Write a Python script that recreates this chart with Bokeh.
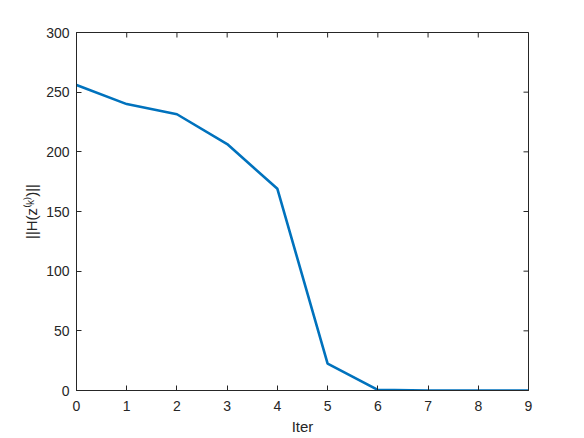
import math
from bokeh.plotting import figure
from bokeh.models import Range1d, FixedTicker
from bokeh.embed import file_html
from bokeh.resources import INLINE

iters = [0, 1, 2, 3, 4, 5, 6, 7, 8, 9]
norms = [256.0, 240.0, 231.5, 206.5, 169.0, 22.5, 0.5, 0.0, 0.0, 0.0]
x_ticks = [0, 1, 2, 3, 4, 5, 6, 7, 8, 9]
y_ticks = [0, 50, 100, 150, 200, 250, 300]
x_min, x_max = 0, 9
y_min, y_max = 0, 300

FONT = "Liberation Sans"
AX = "#262626"

p = figure(frame_width=452, frame_height=358, output_backend="svg",
           toolbar_location=None, x_range=Range1d(x_min, x_max), y_range=Range1d(y_min, y_max),
           min_border_left=76, min_border_top=32, min_border_right=40, min_border_bottom=40)
p.grid.visible = False
p.outline_line_color = AX
p.outline_line_width = 1
p.background_fill_color = "white"
p.border_fill_color = "white"

p.line(iters, norms, line_color="#0072BD", line_width=2.6)

# mirrored inward ticks on top and right edges (half of each dash is clipped by the frame)
p.scatter(x_ticks, [y_max] * len(x_ticks), marker="dash", angle=math.pi / 2, size=10,
          line_color=AX, line_width=1)
p.scatter([x_max] * len(y_ticks), y_ticks, marker="dash", size=10,
          line_color=AX, line_width=1)

for ax, ticks in ((p.xaxis[0], x_ticks), (p.yaxis[0], y_ticks)):
    ax.ticker = FixedTicker(ticks=ticks)
    ax.major_tick_in = 5
    ax.major_tick_out = 0
    ax.minor_tick_line_color = None
    ax.axis_line_color = AX
    ax.major_tick_line_color = AX
    ax.major_label_text_font = FONT
    ax.major_label_text_font_size = "14px"
    ax.major_label_text_color = AX
    ax.axis_label_text_font = FONT
    ax.axis_label_text_font_size = "15px"
    ax.axis_label_text_font_style = "normal"
    ax.axis_label_text_color = AX

p.xaxis[0].axis_label = "Iter"
p.xaxis[0].major_label_standoff = 10
p.xaxis[0].axis_label_standoff = 4
p.yaxis[0].axis_label = "||H(z\u207d\u1d4f\u207e)||"
p.yaxis[0].major_label_standoff = 7
p.yaxis[0].axis_label_standoff = 3

open("out.html", "w").write(file_html(p, INLINE))
